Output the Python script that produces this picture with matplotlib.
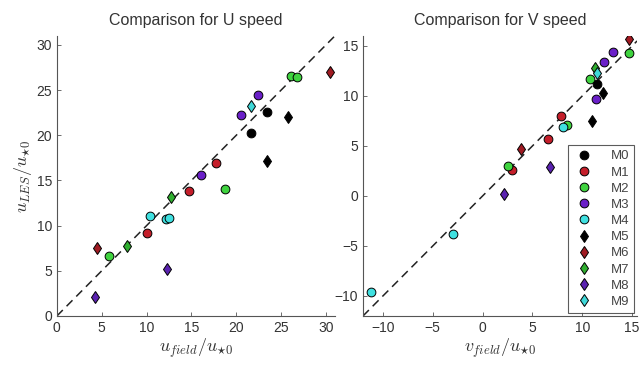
import matplotlib
matplotlib.use("Agg")
import matplotlib.pyplot as plt

plt.rcParams['font.family'] = ['Liberation Sans', 'DejaVu Sans']
plt.rcParams['mathtext.fontset'] = 'cm'

models = ["M0", "M1", "M2", "M3", "M4", "M5", "M6", "M7", "M8", "M9"]
colors = ["#000000", "#c41e2a", "#3fd33f", "#6a1fc8", "#3fe0e0",
          "#000000", "#a01a22", "#2fae2f", "#5a22b0", "#3fd8d8"]
markers = ["o", "o", "o", "o", "o", "d", "d", "d", "d", "d"]

# U speed: field vs LES
u_field = {
    "M0": [21.6, 23.4],
    "M1": [10.0, 14.7, 17.8],
    "M2": [5.8, 18.7, 26.1, 26.8],
    "M3": [16.1, 20.5, 22.4],
    "M4": [10.4, 12.2, 12.5],
    "M5": [23.4, 25.8],
    "M6": [4.5, 30.5],
    "M7": [7.8, 12.7],
    "M8": [4.3, 12.3],
    "M9": [21.6],
}
u_les = {
    "M0": [20.3, 22.6],
    "M1": [9.2, 13.8, 16.9],
    "M2": [6.6, 14.1, 26.6, 26.5],
    "M3": [15.6, 22.2, 24.5],
    "M4": [11.1, 10.7, 10.8],
    "M5": [17.2, 22.0],
    "M6": [7.5, 27.0],
    "M7": [7.8, 13.2],
    "M8": [2.1, 5.2],
    "M9": [23.2],
}
# V speed: field vs LES
v_field = {
    "M0": [11.5],
    "M1": [7.9, 6.6, 3.0],
    "M2": [14.7, 10.8, 8.5, 2.6],
    "M3": [13.1, 12.2, 11.4],
    "M4": [8.1, -3.0, -11.2],
    "M5": [12.1, 11.0],
    "M6": [14.7, 3.9],
    "M7": [11.3],
    "M8": [6.8, 2.1],
    "M9": [11.5],
}
v_les = {
    "M0": [11.2],
    "M1": [8.0, 5.7, 2.6],
    "M2": [14.3, 11.7, 7.1, 3.0],
    "M3": [14.4, 13.4, 9.7],
    "M4": [6.9, -3.8, -9.6],
    "M5": [10.3, 7.5],
    "M6": [15.7, 4.7],
    "M7": [12.8],
    "M8": [2.9, 0.2],
    "M9": [12.3],
}

u_ticks = [0, 5, 10, 15, 20, 25, 30]
v_ticks = [-10, -5, 0, 5, 10, 15]

fig = plt.figure(figsize=(6.39, 3.67), dpi=100)
ax1 = fig.add_axes([0.089, 0.139, 0.435, 0.763])
ax2 = fig.add_axes([0.568, 0.139, 0.429, 0.763])

txt = "#333333"

def style(ax, xlim, ylim, xticks, yticks):
    ax.set_xlim(*xlim)
    ax.set_ylim(*ylim)
    ax.set_xticks(xticks)
    ax.set_yticks(yticks)
    for s in ["top", "right"]:
        ax.spines[s].set_visible(False)
    for s in ["left", "bottom"]:
        ax.spines[s].set_color("#555555")
        ax.spines[s].set_linewidth(0.8)
    ax.tick_params(direction="in", length=3, width=0.6, colors="#555555",
                   labelcolor=txt, labelsize=10)

def msize(mk):
    return 6.3 if mk == "o" else 6.0

# U plot
ax1.plot([0, 31], [0, 31], linestyle=(0, (5.5, 3.5)), color="#222222", lw=1.1, zorder=1)
for m, c, mk in zip(models, colors, markers):
    ax1.plot(u_field[m], u_les[m], linestyle="none", marker=mk, color=c,
             markeredgecolor="black", markeredgewidth=0.7,
             markersize=msize(mk), zorder=3)
style(ax1, (0, 31), (0, 31), u_ticks, u_ticks)
ax1.set_title("Comparison for U speed", fontsize=11.5, color=txt, pad=8)
ax1.set_xlabel(r"$u_{field}/u_{\star 0}$", fontsize=13, color=txt, labelpad=1)
ax1.set_ylabel(r"$u_{LES}/u_{\star 0}$", fontsize=13, color=txt, labelpad=2)

# V plot
ax2.plot([-12, 15.5], [-12, 15.5], linestyle=(0, (5.5, 3.5)), color="#222222", lw=1.1, zorder=1)
handles = []
for m, c, mk in zip(models, colors, markers):
    h, = ax2.plot(v_field[m], v_les[m], linestyle="none", marker=mk, color=c,
                  markeredgecolor="black", markeredgewidth=0.7,
                  markersize=msize(mk), zorder=3, label=m)
    handles.append(h)
style(ax2, (-12, 15.5), (-12, 16), v_ticks, v_ticks)
ax2.set_title("Comparison for V speed", fontsize=11.5, color=txt, pad=8)
ax2.set_xlabel(r"$v_{field}/u_{\star 0}$", fontsize=13, color=txt, labelpad=1)

leg = ax2.legend(handles=handles, loc="lower right", fontsize=9.5, frameon=True,
                 fancybox=False, edgecolor="#333333", handlelength=1.6,
                 handletextpad=1.2, labelspacing=0.3, borderpad=0.4,
                 borderaxespad=0.2)
leg.get_frame().set_linewidth(0.8)
for t in leg.get_texts():
    t.set_color("#444444")

fig.savefig("out.png", dpi=100)
